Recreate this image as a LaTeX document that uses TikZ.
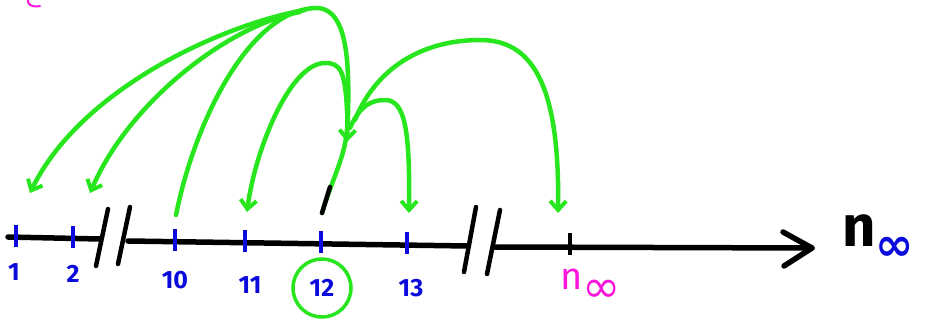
\documentclass[tikz,border=0pt]{standalone}
\usepackage{fontspec}
\setmainfont{Fira Sans}
\newfontfamily\symfont{DejaVu Sans}
\usetikzlibrary{arrows.meta,calc}
\definecolor{hgreen}{RGB}{40,230,30}
\definecolor{hblue}{RGB}{10,10,220}
\definecolor{hmag}{RGB}{250,20,220}
\begin{document}
\begin{tikzpicture}[x=1pt,y=-1pt,
  axisline/.style={line width=5.5pt,black,line cap=round},
  breakmark/.style={line width=4.5pt,black,line cap=round},
  tickmark/.style={line width=3.5pt,hblue},
  jump/.style={line width=4.5pt,hgreen,line cap=round,
    -{Straight Barb[length=9pt,width=16pt,line width=4pt]}},
  lbl/.style={text=hblue,inner sep=0pt,font=\fontsize{25}{25}\selectfont\bfseries}]
\useasboundingbox (0,0) rectangle (940,321);
% axis
\coordinate (a0) at (8,237);
\coordinate (a1) at (100,239);
\coordinate (b0) at (128,241);
\coordinate (b1) at (468,246);
\coordinate (c0) at (495,247);
\coordinate (c1) at (812,248);
\coordinate (h1) at (783,232);
\coordinate (h2) at (784,266);
\draw[axisline] (a0) -- (a1);
\draw[axisline] (b0) -- (b1);
\draw[axisline] (c0) -- (c1);
\draw[axisline,line join=round] (h1) -- (c1) -- (h2);
% breaks
\draw[breakmark] (108,209) -- (96,266);
\draw[breakmark] (130,207) -- (118,264);
\draw[breakmark] (476,207) -- (464,272);
\draw[breakmark] (500,210) -- (487,274);
% ticks
\foreach \n/\x/\y in {1/16/238,2/73/239,10/175/242,11/245/243,12/321/244,13/407/245}{
  \coordinate (t\n) at (\x,\y);
  \draw[tickmark] ($(t\n)+(0,-13)$) -- ($(t\n)+(0,9)$);
}
\coordinate (tn) at (570,247);
\draw[line width=3.5pt] ($(tn)+(0,-14)$) -- ($(tn)+(0,8)$);
% labels
\node[lbl] (l1) at (14,272) {1};
\node[lbl] (l2) at (73,274) {2};
\node[lbl] (l10) at (175,280) {10};
\node[lbl] (l11) at (250,285) {11};
\node[lbl,draw=hgreen,line width=3.5pt,circle,minimum size=58pt] (l12) at (322,288) {12};
\node[lbl] (l13) at (411,288) {13};
\node[inner sep=0pt,text=hmag,anchor=west] (lnoo) at (560,286) {\fontsize{38}{38}\selectfont n\raisebox{-13pt}{\symfont\fontsize{46}{46}\selectfont ∞}};
\node[inner sep=0pt,anchor=west] (lninf) at (842,238) {\fontsize{58}{58}\selectfont\bfseries n\raisebox{-14pt}{\color{hblue}\symfont\fontsize{46}{46}\selectfont ∞}};
% stray mark top left
\draw[hmag,line width=2pt,line cap=round] (40,6) .. controls (32,8) and (27,4) .. (28,0);
% jump arcs
\coordinate (s10) at (176,215);
\coordinate (e12) at (347,142);
\coordinate (s12) at (322,213);
\coordinate (m12) at (330,187);
\coordinate (e11) at (247,212);
\coordinate (s13) at (350,128);
\coordinate (e13) at (409,213);
\coordinate (sn) at (355,120);
\coordinate (en) at (558,213);
\coordinate (s1) at (305,10);
\coordinate (e1) at (30,193);
\coordinate (s2) at (300,12);
\coordinate (e2) at (90,193);
\draw[jump] (s10) .. controls (195,120) and (250,10) .. (316,8)
  .. controls (350,8) and (350,70) .. (e12);
\draw[jump] (s12) .. controls (335,170) and (350,150) .. (347,110)
  .. controls (345,70) and (340,63) .. (325,63)
  .. controls (290,63) and (255,150) .. (e11);
\draw[line width=4.5pt,line cap=round] (s12) -- (m12);
\draw[jump] (s13) .. controls (360,105) and (372,100) .. (385,100)
  .. controls (405,100) and (410,130) .. (e13);
\draw[jump] (sn) .. controls (375,70) and (420,40) .. (480,40)
  .. controls (530,40) and (560,80) .. (en);
\draw[jump] (s1) .. controls (220,25) and (80,90) .. (e1);
\draw[jump] (s2) .. controls (230,25) and (130,100) .. (e2);
\end{tikzpicture}
\end{document}
